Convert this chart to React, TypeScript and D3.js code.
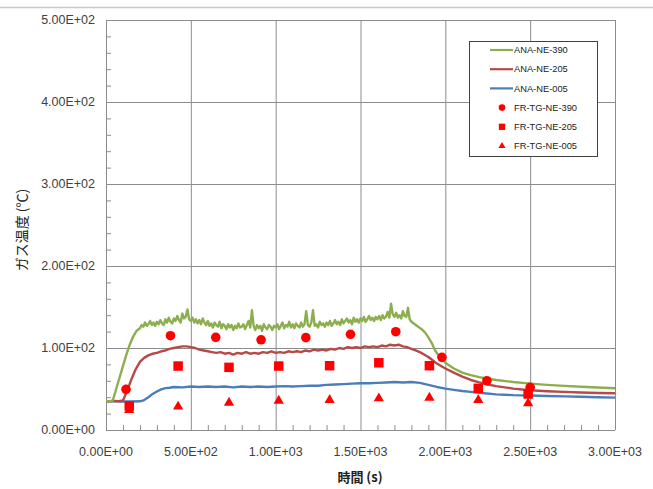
import React from "react";
import * as d3 from "d3";

// ---- data ----
const greenTime = [0,20,40,60,80,100,120,140,160,180,
  200,210,220,230,240,250,260,270,280,290,
  300,310,320,330,340,350,360,370,380,390,
  400,410,420,430,440,450,460,470,480,490,
  500,510,520,530,540,550,560,570,580,590,
  600,610,620,630,640,650,660,670,680,690,
  700,710,720,730,740,750,760,770,780,790,
  800,810,820,830,840,850,860,870,880,890,
  900,910,920,930,940,950,960,970,980,990,
  1000,1010,1020,1030,1040,1050,1060,1070,1080,1090,
  1100,1110,1120,1130,1140,1150,1160,1170,1180,1190,
  1200,1210,1220,1230,1240,1250,1260,1270,1280,1290,
  1300,1310,1320,1330,1340,1350,1360,1370,1380,1390,
  1400,1410,1420,1430,1440,1450,1460,1470,1480,1490,
  1500,1510,1520,1530,1540,1550,1560,1570,1580,1590,
  1600,1610,1620,1630,1640,1650,1660,1670,1680,1690,
  1700,1710,1720,1730,1740,1750,1760,1770,1780,1790,
  1800,1820,1840,1860,1880,1900,1920,1940,1960,1980,2000,
  2050,2100,2150,2200,2250,2300,2400,2500,2600,2700,2800,2900,3000];
const greenTemp = [35,35,36,50,64,78,92,104,114,121,
  124,128,126,131,127,129,133,128,131,127,
  132,129,134,130,128,135,131,137,132,130,
  136,133,139,134,131,142,136,138,147,135,
  133,137,131,135,130,134,129,136,131,128,
  133,127,130,125,131,128,126,132,124,129,
  127,123,129,125,128,122,127,124,130,125,
  126,129,123,128,133,125,146,127,122,128,
  124,127,121,129,125,123,128,126,122,127,
  125,129,123,127,131,124,128,126,132,125,
  129,124,130,127,125,131,126,129,145,128,
  126,131,146,127,129,125,132,128,130,126,
  131,128,133,127,130,134,129,132,128,135,
  130,133,136,131,134,129,137,132,135,131,
  136,133,138,132,135,139,134,137,133,138,
  135,139,134,140,136,138,144,137,154,141,
  138,143,137,140,136,145,139,138,149,135,
  132,129,126,123,119,113,106,97,91,86,82,
  75,70,67,64.5,62.5,61,58.5,56.5,55,53.8,52.8,51.8,51];

const redTime = [0,25,50,75,100,125,150,175,200,225,250,275,300,325,350,375,400,425,450,475,500,525,550,575,600,625,650,675,700,725,750,775,800,825,850,875,900,925,950,975,1000,1025,1050,1075,1100,1125,1150,1175,1200,1225,1250,1275,1300,1325,1350,1375,1400,1425,1450,1475,1500,1525,1550,1575,1600,1625,1650,1675,1700,1725,1750,1775,1800,1825,1850,1875,1900,1925,1950,1975,2000,2050,2100,2150,2200,2250,2300,2400,2500,2600,2700,2800,2900,3000];
const redTemp = [35,35,35.5,35,36,48,62,74,83,88,91,93,94,96,97,99,100,101,102,102,101,100,98,97,96,95,94,95,93,94,92,94,93,95,93,94,93,95,94,96,94,95,94,96,95,96,95,97,96,98,97,98,97,99,98,100,99,101,100,101,100,102,101,102,101,103,102,104,103,104,102,101,99,97,95,92,89,85,81,78,75,70,65,61,58,55.5,53.5,50.5,48.5,47.3,46.5,45.8,45.2,44.8];

const blueTime = [0,50,100,150,200,225,250,275,300,325,350,375,400,450,500,550,600,650,700,750,800,850,900,950,1000,1050,1100,1150,1200,1250,1300,1350,1400,1450,1500,1550,1600,1650,1700,1750,1800,1850,1900,1950,2000,2050,2100,2150,2200,2300,2400,2500,2600,2700,2800,2900,3000];
const blueTemp = [35,35,34.8,34.8,35,36.5,40,44,47,49.5,51,51.5,52.5,52,53,52.5,53,52.5,53,52,53,52.5,53,52.5,53,53.5,53,53.5,54,54,55,55.5,56,56.5,57,57,57.5,58,58.5,58,58.5,57.5,55,52.5,50.5,49,47.5,46.5,45.5,43.5,42.5,42,41.5,41,40.5,40,39.5];

const circleTime = [118,380,647,914,1178,1441,1708,1980,2245,2500];
const circleTemp = [49.6,115,113,110,112.6,116.7,119.9,88.6,60.1,52];
const squareTime = [137,425,725,1018,1318,1608,1906,2194,2488];
const squareTemp = [29.3,78,76.4,78,78.4,82,78.4,50.8,43.9];
const triangleTime = [137,425,725,1018,1318,1608,1906,2194,2488];
const triangleTemp = [24.4,28.5,33.3,35.7,36.6,38.6,39.4,36.6,32.5];

const xTicks = [0,500,1000,1500,2000,2500,3000];
const yTicks = [0,100,200,300,400,500];
const legendLabels = ["ANA-NE-390","ANA-NE-205","ANA-NE-005","FR-TG-NE-390","FR-TG-NE-205","FR-TG-NE-005"];

const GREEN = "#8DAE4F";
const RED = "#B54A46";
const BLUE = "#4A7DBA";
const MARK = "#FF0000";

const fmt = (v: number) => v.toExponential(2).toUpperCase().replace(/E([+-])(\d)$/, "E$10$2");

export default function App() {
  const W = 653, H = 489;
  const L = 106, R = 615, T = 20, B = 430;
  const x = d3.scaleLinear().domain([0, 3000]).range([L, R]);
  const y = d3.scaleLinear().domain([0, 500]).range([B, T]);
  const line = (ts: number[], vs: number[]) =>
    d3.line<number>().x((_, i) => x(ts[i])).y((v) => y(v))(vs) || "";
  const tickFont = "'Liberation Sans', Arial, sans-serif";
  const minorY = d3.range(0, 501, 20).filter((v) => v % 100 !== 0);
  const minorX = d3.range(0, 3001, 100).filter((v) => v % 500 !== 0);
  const sq = d3.symbol().type(d3.symbolSquare);
  const tri = d3.symbol().type(d3.symbolTriangle);

  const legX = 469, legY = 41, legW = 128, legH = 115;
  const rowY = (i: number) => 50 + i * 19.2;

  return (
    <div style={{ position: "absolute", left: 0, top: 0 }}>
      <svg width={W} height={H} style={{ display: "block", background: "#fff" }}>
        <line x1={0} x2={W} y1={7.5} y2={7.5} stroke="#c8c8c8" strokeWidth={1.5} />
        {/* gridlines */}
        {yTicks.map((v) => (
          <line key={"gy" + v} x1={L} x2={R} y1={y(v) + 0.5} y2={y(v) + 0.5} stroke="#8c8c8c" strokeWidth={1} />
        ))}
        {xTicks.map((v) => (
          <line key={"gx" + v} x1={x(v) + 0.5} x2={x(v) + 0.5} y1={T} y2={B} stroke="#8c8c8c" strokeWidth={1} />
        ))}
        {/* minor ticks */}
        {minorY.map((v) => (
          <line key={"my" + v} x1={L} x2={L + 5} y1={y(v) + 0.5} y2={y(v) + 0.5} stroke="#8c8c8c" strokeWidth={1} />
        ))}
        {minorX.map((v) => (
          <line key={"mx" + v} x1={x(v) + 0.5} x2={x(v) + 0.5} y1={B} y2={B - 5} stroke="#8c8c8c" strokeWidth={1} />
        ))}
        {/* tick labels */}
        {yTicks.map((v) => (
          <text key={"ty" + v} x={95} y={y(v)} dy="0.35em" textAnchor="end" fontFamily={tickFont} fontSize={12.5} fill="#404040">
            {fmt(v)}
          </text>
        ))}
        {xTicks.map((v) => (
          <text key={"tx" + v} x={x(v)} y={452} dy="0.35em" textAnchor="middle" fontFamily={tickFont} fontSize={12.5} fill="#404040">
            {fmt(v)}
          </text>
        ))}
        {/* axis titles */}
        <text transform="translate(22,230) rotate(-90)" dy="0.35em" textAnchor="middle" fontFamily="'Noto Sans CJK JP', sans-serif" fontSize={14} fill="#222">
          ガス温度 (℃)
        </text>
        <text x={360} y={477} dy="0.35em" textAnchor="middle" fontFamily="'Noto Sans CJK JP', sans-serif" fontWeight="bold" fontSize={13} fill="#222">
          時間 (s)
        </text>
        {/* lines */}
        <path d={line(blueTime, blueTemp)} fill="none" stroke={BLUE} strokeWidth={2.4} strokeLinejoin="round" />
        <path d={line(redTime, redTemp)} fill="none" stroke={RED} strokeWidth={2.4} strokeLinejoin="round" />
        <path d={line(greenTime, greenTemp)} fill="none" stroke={GREEN} strokeWidth={2.4} strokeLinejoin="round" />
        {/* markers */}
        {circleTime.map((t, i) => (
          <circle key={"c" + i} cx={x(t)} cy={y(circleTemp[i])} r={4.8} fill={MARK} />
        ))}
        {squareTime.map((t, i) => (
          <path key={"s" + i} transform={`translate(${x(t)},${y(squareTemp[i])})`} d={sq.size(90)() || ""} fill={MARK} />
        ))}
        {triangleTime.map((t, i) => (
          <path key={"t" + i} transform={`translate(${x(t)},${y(triangleTemp[i])})`} d={tri.size(45)() || ""} fill={MARK} />
        ))}
        {/* legend */}
        <rect x={legX + 0.5} y={legY + 0.5} width={legW} height={legH} fill="#fff" stroke="#404040" strokeWidth={1} />
        {[GREEN, RED, BLUE].map((c, i) => (
          <line key={"ll" + i} x1={490} x2={513} y1={rowY(i)} y2={rowY(i)} stroke={c} strokeWidth={2.2} />
        ))}
        <circle cx={502} cy={rowY(3)} r={3.3} fill={MARK} />
        <path transform={`translate(502,${rowY(4)})`} d={sq.size(40)() || ""} fill={MARK} />
        <path transform={`translate(502,${rowY(5)})`} d={tri.size(22)() || ""} fill={MARK} />
        {legendLabels.map((s, i) => (
          <text key={"lt" + i} x={514} y={rowY(i)} dy="0.35em" fontFamily={tickFont} fontSize={9.3} fill="#222">
            {s}
          </text>
        ))}
      </svg>
    </div>
  );
}
